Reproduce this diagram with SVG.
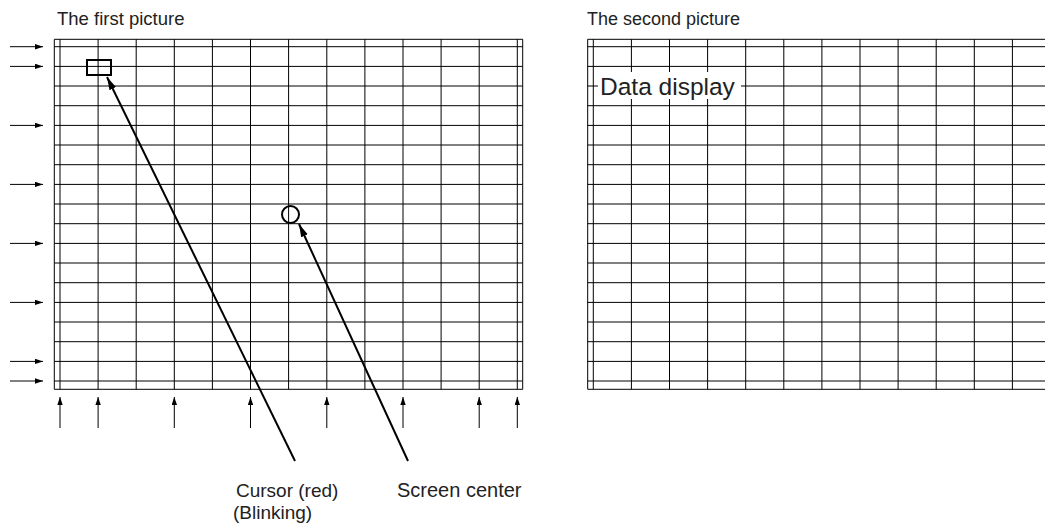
<svg xmlns="http://www.w3.org/2000/svg" width="1045" height="531" viewBox="0 0 1045 531">
<style>
.g{stroke:#000;stroke-width:1;fill:none}
.t{font-family:"Liberation Sans",Arial,sans-serif;font-size:19px;fill:#222}
.ar{stroke:#000;stroke-width:1}
.ld{stroke:#000;stroke-width:2;fill:none}
</style>
<defs>
<marker id="sa" markerUnits="userSpaceOnUse" markerWidth="9" markerHeight="6" refX="8" refY="2.7" orient="auto"><path d="M0,0 L8,2.7 L0,5.4 Z" fill="#000"/></marker>
<marker id="la" markerUnits="userSpaceOnUse" markerWidth="14" markerHeight="8" refX="13" refY="3.6" orient="auto"><path d="M0,0 L13,3.6 L0,7.2 Z" fill="#000"/></marker>
</defs>
<rect width="1045" height="531" fill="#fff"/>
<g id="title1"><text class="t" x="57" y="25" style="font-size:18.5px">The first picture</text></g>
<g id="title2"><text class="t" x="587" y="25" style="font-size:18px">The second picture</text></g>
<g id="grid1" class="g">
<path d="M54.3,39.3 H522.7 M54.3,389.3 H522.7 M54.3,39.3 V389.3 M522.7,39.3 V389.3"/>
<path d="M54.3,46.7H522.7 M54.3,66.4H522.7 M54.3,86H522.7 M54.3,105.7H522.7 M54.3,125.4H522.7 M54.3,145H522.7 M54.3,164.7H522.7 M54.3,184.4H522.7 M54.3,204H522.7 M54.3,223.7H522.7 M54.3,243.4H522.7 M54.3,263H522.7 M54.3,282.7H522.7 M54.3,302.4H522.7 M54.3,322H522.7 M54.3,341.7H522.7 M54.3,361.4H522.7 M54.3,381H522.7"/>
<path d="M60,39.3V389.3 M98.1,39.3V389.3 M136.2,39.3V389.3 M174.3,39.3V389.3 M212.4,39.3V389.3 M250.5,39.3V389.3 M288.6,39.3V389.3 M326.8,39.3V389.3 M364.9,39.3V389.3 M403,39.3V389.3 M441.1,39.3V389.3 M479.2,39.3V389.3 M517.3,39.3V389.3"/>
</g>
<g id="grid2" class="g">
<path d="M587.7,39.3 H1060 M587.7,389.3 H1060 M587.7,39.3 V389.3"/>
<path d="M587.7,46.7H1060 M587.7,66.4H1060 M587.7,86H1060 M587.7,105.7H1060 M587.7,125.4H1060 M587.7,145H1060 M587.7,164.7H1060 M587.7,184.4H1060 M587.7,204H1060 M587.7,223.7H1060 M587.7,243.4H1060 M587.7,263H1060 M587.7,282.7H1060 M587.7,302.4H1060 M587.7,322H1060 M587.7,341.7H1060 M587.7,361.4H1060 M587.7,381H1060"/>
<path d="M593.3,39.3V389.3 M631.4,39.3V389.3 M669.5,39.3V389.3 M707.6,39.3V389.3 M745.7,39.3V389.3 M783.8,39.3V389.3 M821.9,39.3V389.3 M860,39.3V389.3 M898.1,39.3V389.3 M936.2,39.3V389.3 M974.3,39.3V389.3 M1012.4,39.3V389.3"/>
</g>
<g id="data-display">
<rect x="598" y="72" width="143" height="27" fill="#fff"/>
<text class="t" x="600" y="95" style="font-size:24.5px">Data display</text>
</g>
<g id="cursor"><rect x="87" y="60" width="24" height="15" fill="none" stroke="#000" stroke-width="2"/></g>
<g id="screen-center"><circle cx="290.5" cy="214.5" r="8.5" fill="none" stroke="#000" stroke-width="2"/></g>
<g id="connectors">
<g class="ar" marker-end="url(#sa)">
<line x1="10" y1="46.7" x2="43" y2="46.7"/>
<line x1="10" y1="66.4" x2="43" y2="66.4"/>
<line x1="10" y1="125.4" x2="43" y2="125.4"/>
<line x1="10" y1="184.4" x2="43" y2="184.4"/>
<line x1="10" y1="243.4" x2="43" y2="243.4"/>
<line x1="10" y1="302.4" x2="43" y2="302.4"/>
<line x1="10" y1="361.4" x2="43" y2="361.4"/>
<line x1="10" y1="381" x2="43" y2="381"/>
<line x1="60" y1="428" x2="60" y2="397"/>
<line x1="98.1" y1="428" x2="98.1" y2="397"/>
<line x1="174.3" y1="428" x2="174.3" y2="397"/>
<line x1="250.5" y1="428" x2="250.5" y2="397"/>
<line x1="326.8" y1="428" x2="326.8" y2="397"/>
<line x1="403" y1="428" x2="403" y2="397"/>
<line x1="479.2" y1="428" x2="479.2" y2="397"/>
<line x1="517.3" y1="428" x2="517.3" y2="397"/>
</g>
<line class="ld" x1="295" y1="461" x2="107" y2="77" marker-end="url(#la)"/>
<line class="ld" x1="408" y1="461" x2="299" y2="224" marker-end="url(#la)"/>
</g>
<g id="labels">
<text class="t" x="236" y="497">Cursor (red)</text>
<text class="t" x="233" y="519">(Blinking)</text>
<text class="t" x="397" y="497" style="font-size:20px">Screen center</text>
</g>
</svg>
